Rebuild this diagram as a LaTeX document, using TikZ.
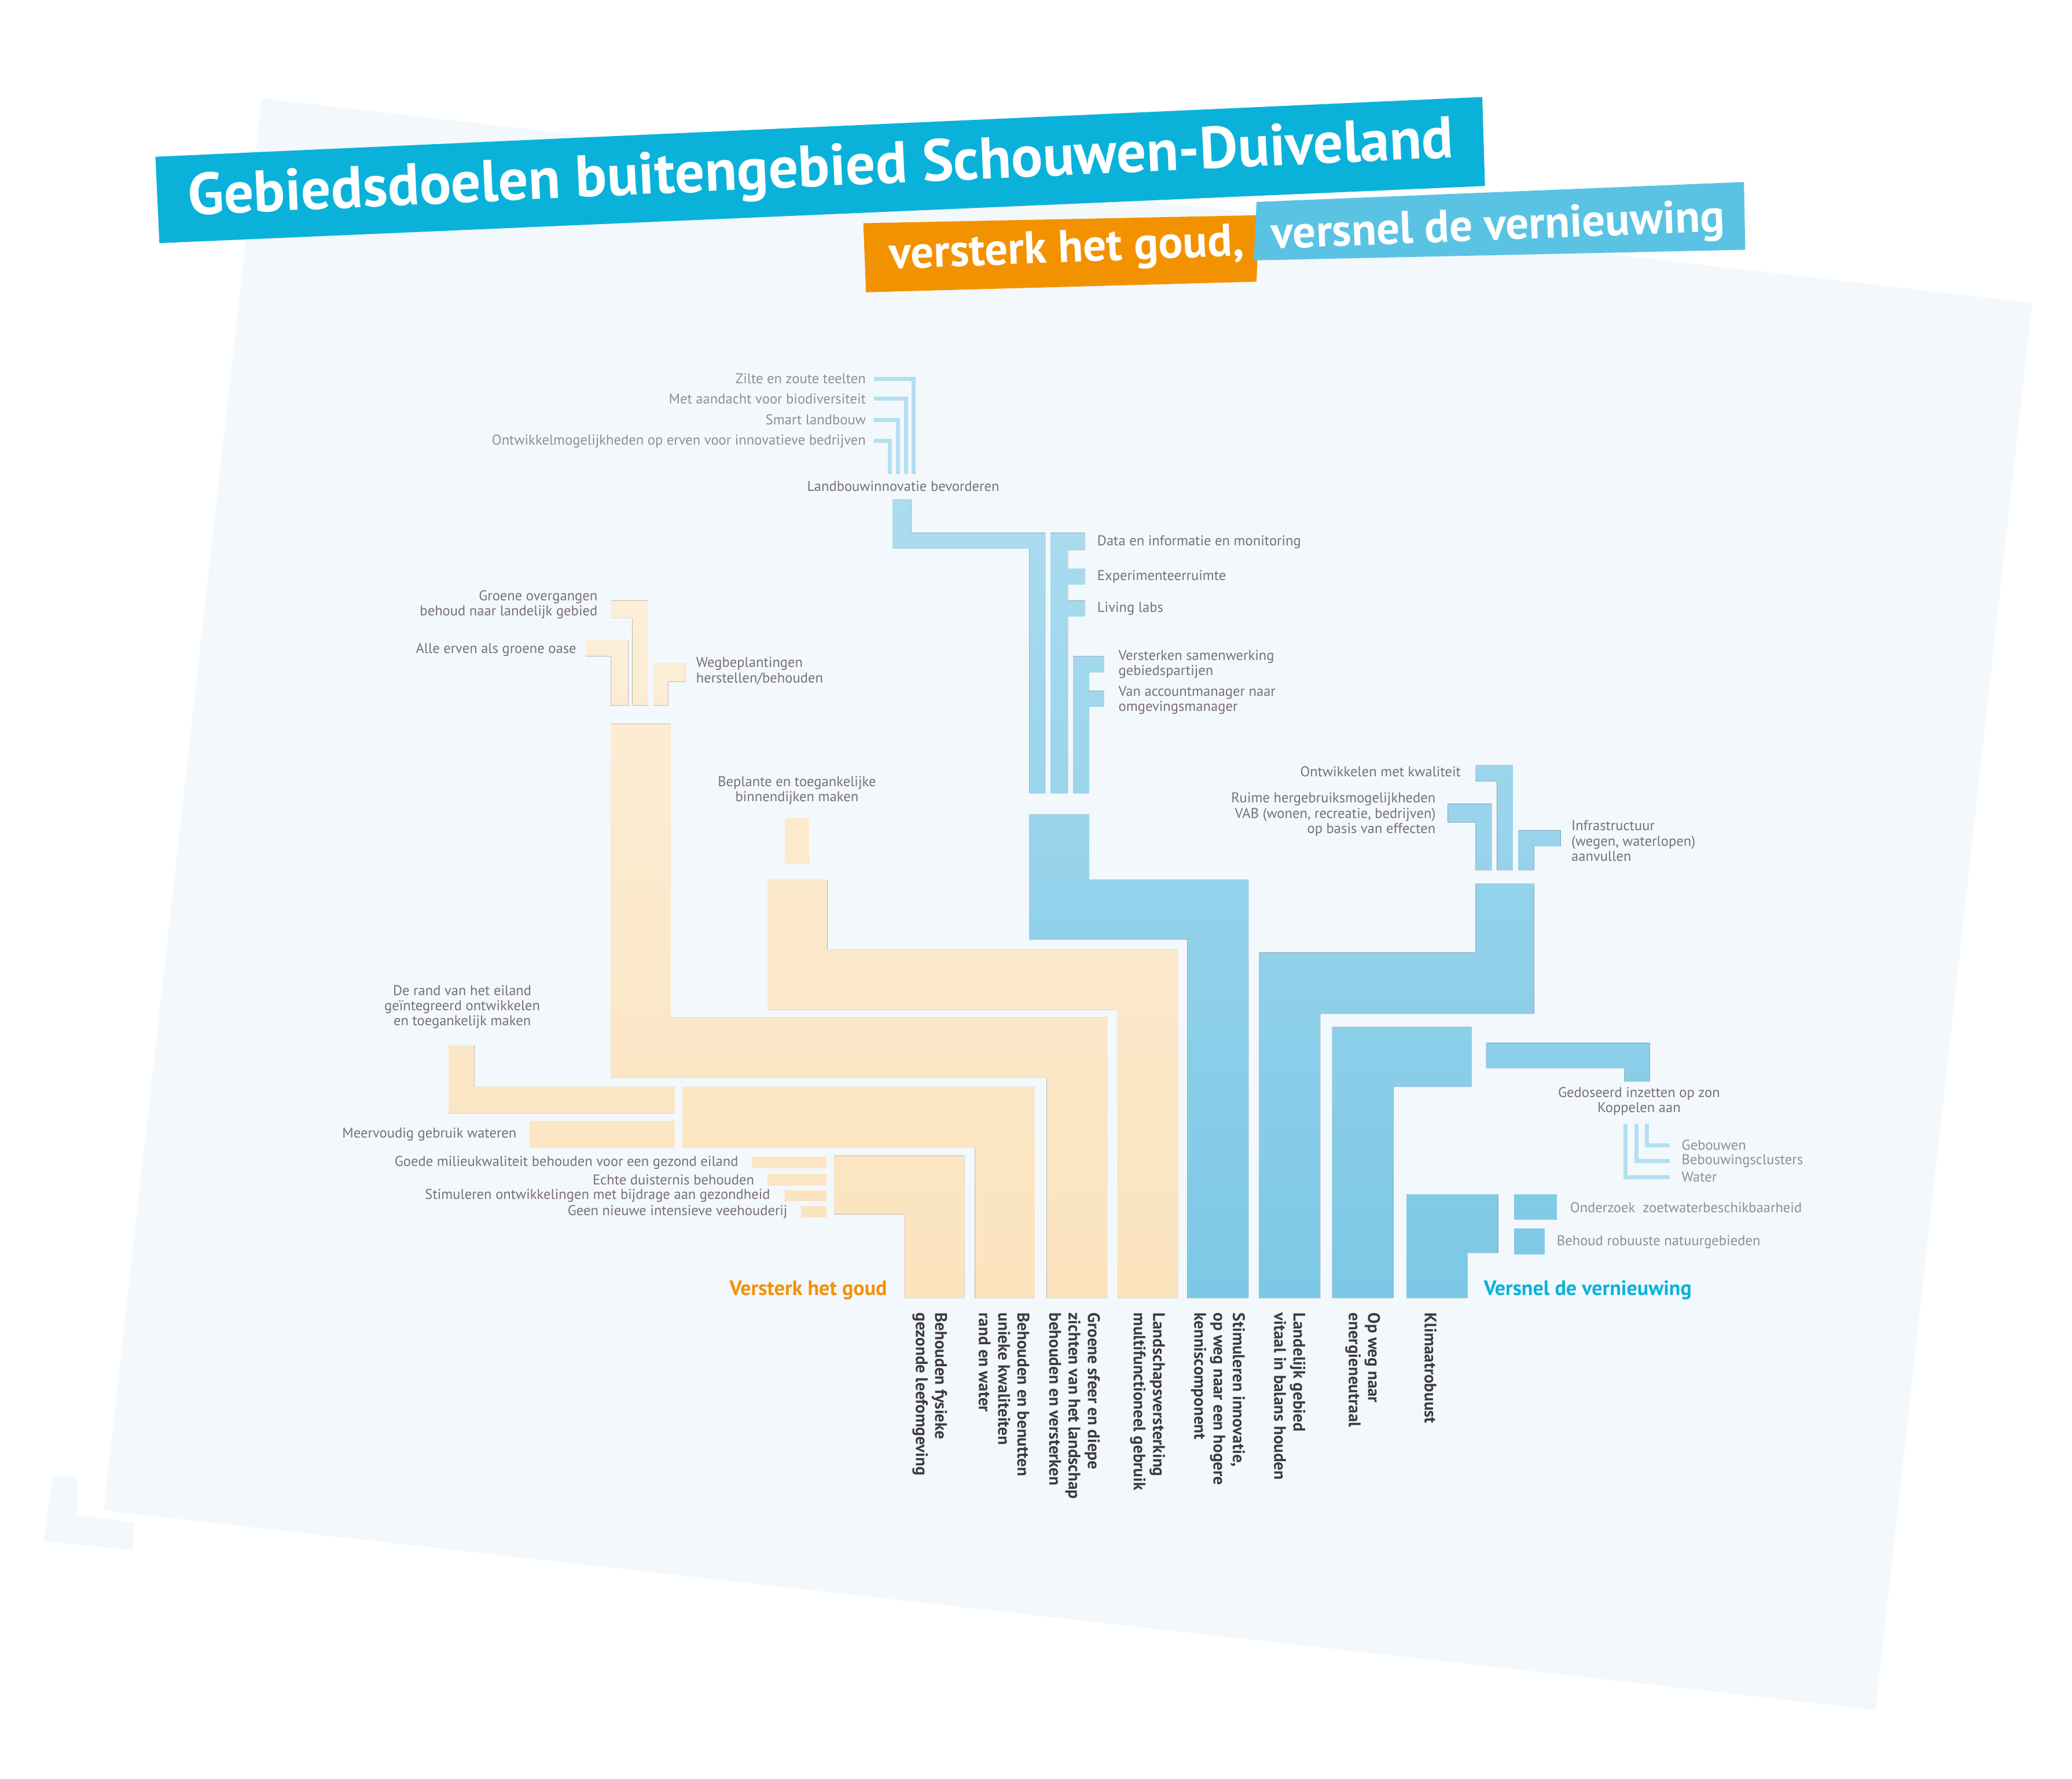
\documentclass[tikz,border=0pt]{standalone}
\usepackage{fontspec}
\setmainfont{PT Sans}
\begin{document}
\begin{tikzpicture}[x=0.459mm,y=-0.459mm,
  lbl/.style={text=txtgrey,font=\fontsize{14}{15}\selectfont,inner sep=0pt},
  lbll/.style={text=txtlight,font=\fontsize{14}{15}\selectfont,inner sep=0pt},
  col/.style={text=dark,font=\bfseries\fontsize{16.5}{19}\selectfont,rotate=-90,anchor=west,align=left,inner sep=0pt},
  bl/.style={path picture={\shade[top color=blueT,bottom color=blueB] (0,280) rectangle (1560,980);}},
  og/.style={path picture={\shade[top color=orT,bottom color=orB] (0,450) rectangle (1560,980);}},
  thin/.style={line width=1.4mm,draw=blueT}]
\definecolor{panel}{HTML}{F3F8FD}
\definecolor{cyanb}{HTML}{0AB2DA}
\definecolor{lightb}{HTML}{5AC3E4}
\definecolor{orangeb}{HTML}{F39200}
\definecolor{txtgrey}{HTML}{7A7070}
\definecolor{txtlight}{HTML}{958D8D}
\definecolor{dark}{HTML}{3E3A3A}
\definecolor{blueT}{HTML}{B3DFF1}
\definecolor{blueB}{HTML}{7CC8E6}
\definecolor{orT}{HTML}{FCEED8}
\definecolor{orB}{HTML}{FBE3BD}
\useasboundingbox (0,0) rectangle (1560,1339);
\fill[white] (0,0) rectangle (1560,1339);
% panel
\fill[panel] (197,74) -- (1530,228) -- (1412,1287) -- (78,1137) -- cycle;
\fill[panel] (40,1110) -- (58,1112) -- (58,1140) -- (101,1146) -- (100,1167) -- (33,1160) -- cycle;
% banners
\fill[cyanb] (117,118) -- (1116,73) -- (1118,140) -- (120,183) -- cycle;
\node[text=white,font=\bfseries\fontsize{58}{60}\selectfont,rotate=2.6] (title) at (618,129) {Gebiedsdoelen buitengebied Schouwen-Duiveland};
\fill[orangeb] (650,168) -- (948,162) -- (946,212) -- (652,220) -- cycle;
\fill[lightb] (946,152) -- (1313,137) -- (1314,188) -- (944,196) -- cycle;
\node[text=white,font=\bfseries\fontsize{45}{47}\selectfont,rotate=2.2] (sub1) at (803,189) {versterk het goud,};
\node[text=white,font=\bfseries\fontsize{45}{47}\selectfont,rotate=2.2] (sub2) at (1128,172) {versnel de vernieuwing};

% ===== blue upper
\draw[thin] (658,285) -- (688,285) -- (688,357);
\draw[thin] (658,300) -- (682,300) -- (682,357);
\draw[thin] (658,316) -- (676,316) -- (676,357);
\draw[thin] (658,332) -- (670,332) -- (670,357);
\node[lbll,anchor=east] (z1) at (652,285) {Zilte en zoute teelten};
\node[lbll,anchor=east] (z2) at (652,300) {Met aandacht voor biodiversiteit};
\node[lbll,anchor=east] (z3) at (652,316) {Smart landbouw};
\node[lbll,anchor=east] (z4) at (652,332) {Ontwikkelmogelijkheden op erven voor innovatieve bedrijven};
\node[lbl] (land) at (680,366) {Landbouwinnovatie bevorderen};
\fill[bl] (672,376) -- (686,376) -- (686,401) -- (787,401) -- (787,597) -- (775,597) -- (775,413) -- (672,413) -- cycle;
\fill[bl] (791,401) -- (817,401) -- (817,414) -- (804,414) -- (804,428) -- (817,428) -- (817,440) -- (804,440) -- (804,452) -- (817,452) -- (817,464) -- (804,464) -- (804,597) -- (791,597) -- cycle;
\fill[bl] (808,494) -- (831,494) -- (831,506) -- (820,506) -- (820,520) -- (831,520) -- (831,532) -- (820,532) -- (820,597) -- (808,597) -- cycle;
\node[lbl,anchor=west] (d1) at (826,408) {Data en informatie en monitoring};
\node[lbl,anchor=west] (d2) at (826,434) {Experimenteerruimte};
\node[lbl,anchor=west] (d3) at (826,458) {Living labs};
\node[lbl,anchor=west,align=left] (d4) at (842,500) {Versterken samenwerking\\gebiedspartijen};
\node[lbl,anchor=west,align=left] (d5) at (842,527) {Van accountmanager naar\\omgevingsmanager};
\fill[bl] (775,613) -- (820,613) -- (820,662) -- (940,662) -- (940,977) -- (894,977) -- (894,707) -- (775,707) -- cycle;

% ===== blue right
\fill[bl] (1111,576) -- (1139,576) -- (1139,655) -- (1127,655) -- (1127,588) -- (1111,588) -- cycle;
\fill[bl] (1090,605) -- (1123,605) -- (1123,655) -- (1111,655) -- (1111,619) -- (1090,619) -- cycle;
\fill[bl] (1143,625) -- (1175,625) -- (1175,637) -- (1155,637) -- (1155,655) -- (1143,655) -- cycle;
\node[lbl,anchor=east] (e1) at (1100,581) {Ontwikkelen met kwaliteit};
\node[lbl,anchor=east,align=right] (e2) at (1081,613) {Ruime hergebruiksmogelijkheden\\VAB (wonen, recreatie, bedrijven)\\op basis van effecten};
\node[lbl,anchor=west,align=left] (e3) at (1183,633) {Infrastructuur\\(wegen, waterlopen)\\aanvullen};
\fill[bl] (1111,665) -- (1155,665) -- (1155,763) -- (994,763) -- (994,977) -- (948,977) -- (948,717) -- (1111,717) -- cycle;
\fill[bl] (1003,773) -- (1108,773) -- (1108,818) -- (1049,818) -- (1049,977) -- (1003,977) -- cycle;
\fill[bl] (1119,785) -- (1242,785) -- (1242,814) -- (1223,814) -- (1223,804) -- (1119,804) -- cycle;
\node[lbl,align=center] (g1) at (1234,829) {Gedoseerd inzetten op zon\\Koppelen aan};
\draw[thin] (1224,846) -- (1224,886) -- (1257,886);
\draw[thin] (1232,846) -- (1232,874) -- (1257,874);
\draw[thin] (1240,846) -- (1240,862) -- (1257,862);
\node[lbll,anchor=west] (h1) at (1266,862) {Gebouwen};
\node[lbll,anchor=west] (h2) at (1266,874) {Bebouwingsclusters};
\node[lbll,anchor=west] (h3) at (1266,886) {Water};
\fill[bl] (1059,899) -- (1128,899) -- (1128,943) -- (1105,943) -- (1105,977) -- (1059,977) -- cycle;
\fill[bl] (1140,899) rectangle (1172,918);
\fill[bl] (1140,925) rectangle (1163,944);
\node[lbll,anchor=west] (k1) at (1182,909) {Onderzoek \ zoetwaterbeschikbaarheid};
\node[lbll,anchor=west] (k2) at (1172,935) {Behoud robuuste natuurgebieden};
\node[text=cyanb,font=\bfseries\fontsize{20.5}{21}\selectfont,anchor=west,inner sep=0pt] (vv) at (1117,971) {Versnel de vernieuwing};

% ===== orange
\fill[og] (441,482) -- (473,482) -- (473,531) -- (460,531) -- (460,494) -- (441,494) -- cycle;
\fill[og] (460,452) -- (488,452) -- (488,531) -- (476,531) -- (476,465) -- (460,465) -- cycle;
\fill[og] (492,499) -- (516,499) -- (516,513) -- (503,513) -- (503,531) -- (492,531) -- cycle;
\node[lbl,anchor=east,align=right] (o2) at (450,455) {Groene overgangen\\behoud naar landelijk gebied};
\node[lbl,anchor=east] (o1) at (434,489) {Alle erven als groene oase};
\node[lbl,anchor=west,align=left] (o3) at (524,505) {Wegbeplantingen\\herstellen/behouden};
\fill[og] (460,545) -- (505,545) -- (505,766) -- (834,766) -- (834,977) -- (788,977) -- (788,811) -- (460,811) -- cycle;
\fill[og] (591,616) rectangle (609,650);
\node[lbl,align=center] (bd) at (600,595) {Beplante en toegankelijke\\binnendijken maken};
\fill[og] (578,662) -- (623,662) -- (623,715) -- (887,715) -- (887,977) -- (841,977) -- (841,760) -- (578,760) -- cycle;
\fill[og] (338,787) -- (357,787) -- (357,818) -- (508,818) -- (508,838) -- (338,838) -- cycle;
\node[lbl,align=center] (rand) at (348,758) {De rand van het eiland\\geïntegreerd ontwikkelen\\en toegankelijk maken};
\fill[og] (399,844) rectangle (508,864);
\node[lbl,anchor=east] (mv) at (389,854) {Meervoudig gebruik wateren};
\fill[og] (514,818) -- (779,818) -- (779,977) -- (734,977) -- (734,864) -- (514,864) -- cycle;
\fill[og] (566,871) rectangle (622,879);
\fill[og] (578,884) rectangle (622,892);
\fill[og] (591,896) rectangle (622,904);
\fill[og] (603,908) rectangle (622,916);
\node[lbl,anchor=east] (s1) at (556,875) {Goede milieukwaliteit behouden voor een gezond eiland};
\node[lbl,anchor=east] (s2) at (568,888) {Echte duisternis behouden};
\node[lbl,anchor=east] (s3) at (580,900) {Stimuleren ontwikkelingen met bijdrage aan gezondheid};
\node[lbl,anchor=east] (s4) at (593,912) {Geen nieuwe intensieve veehouderij};
\fill[og] (628,870) -- (726,870) -- (726,977) -- (681,977) -- (681,914) -- (628,914) -- cycle;
\node[text=orangeb,font=\bfseries\fontsize{20.5}{21}\selectfont,anchor=east,inner sep=0pt] (vg) at (668,971) {Versterk het goud};

% ===== column labels
\node[col] (c1) at (700,988) {Behouden fysieke\\gezonde leefomgeving};
\node[col] (c2) at (756,988) {Behouden en benutten\\unieke kwaliteiten\\rand en water};
\node[col] (c3) at (809,988) {Groene sfeer en diepe\\zichten van het landschap\\behouden en versterken};
\node[col] (c4) at (864,988) {Landschapsversterking\\multifunctioneel gebruik};
\node[col] (c5) at (917,988) {Stimuleren innovatie,\\op weg naar een hogere\\kenniscomponent};
\node[col] (c6) at (971,988) {Landelijk gebied\\vitaal in balans houden};
\node[col] (c7) at (1026,988) {Op weg naar\\energieneutraal};
\node[col] (c8) at (1077,988) {Klimaatrobuust};
\end{tikzpicture}
\end{document}
